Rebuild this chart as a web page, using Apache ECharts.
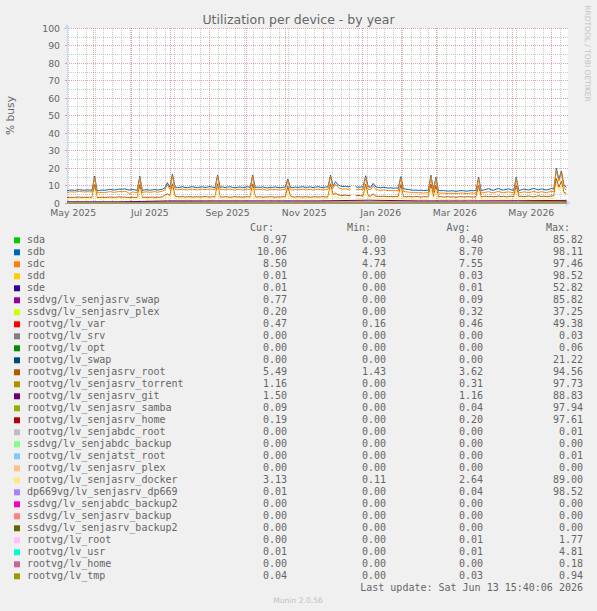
<!DOCTYPE html>
<html><head><meta charset="utf-8">
<script src="https://cdn.jsdelivr.net/npm/echarts@6/dist/echarts.min.js"></script>
<style>html,body{margin:0;padding:0;background:#F0F0F0}#c{width:597px;height:611px}</style>
</head><body><div id="c"></div>
<script>
// ---------------- DATA ----------------
const chartTitle = 'Utilization per device - by year';
const yAxisName = '% busy';
const xLabels = ['May 2025','Jul 2025','Sep 2025','Nov 2025','Jan 2026','Mar 2026','May 2026'];
const lastUpdate = 'Last update: Sat Jun 13 15:40:06 2026';

const names = ['sda','sdb','sdc','sdd','sde','ssdvg/lv_senjasrv_swap','ssdvg/lv_senjasrv_plex','rootvg/lv_var','rootvg/lv_srv','rootvg/lv_opt','rootvg/lv_swap','rootvg/lv_senjasrv_root','rootvg/lv_senjasrv_torrent','rootvg/lv_senjasrv_git','rootvg/lv_senjasrv_samba','rootvg/lv_senjasrv_home','rootvg/lv_senjabdc_root','ssdvg/lv_senjabdc_backup','rootvg/lv_senjatst_root','rootvg/lv_senjasrv_plex','rootvg/lv_senjasrv_docker','dp669vg/lv_senjasrv_dp669','ssdvg/lv_senjabdc_backup2','ssdvg/lv_senjasrv_backup','ssdvg/lv_senjasrv_backup2','rootvg/lv_root','rootvg/lv_usr','rootvg/lv_home','rootvg/lv_tmp'];
const colors = ['#00CC00','#0066B3','#FF8000','#FFCC00','#330099','#990099','#CCFF00','#FF0000','#808080','#008F00','#00487D','#B35A00','#B38F00','#6B006B','#8FB300','#B30000','#BEBEBE','#80FF80','#80C9FF','#FFC080','#FFE680','#AA80FF','#EE00CC','#FF8080','#666600','#FFBFFF','#00FFCC','#CC6699','#999900'];
const curValues = [0.97,10.06,8.50,0.01,0.01,0.77,0.20,0.47,0.00,0.00,0.00,5.49,1.16,1.50,0.09,0.19,0.00,0.00,0.00,0.00,3.13,0.01,0.00,0.00,0.00,0.00,0.01,0.00,0.04];
const minValues = [0.00,4.93,4.74,0.00,0.00,0.00,0.00,0.16,0.00,0.00,0.00,1.43,0.00,0.00,0.00,0.00,0.00,0.00,0.00,0.00,0.11,0.00,0.00,0.00,0.00,0.00,0.00,0.00,0.00];
const avgValues = [0.40,8.70,7.55,0.03,0.01,0.09,0.32,0.46,0.00,0.00,0.00,3.62,0.31,1.16,0.04,0.20,0.00,0.00,0.00,0.00,2.64,0.04,0.00,0.00,0.00,0.01,0.01,0.00,0.03];
const maxValues = [85.82,98.11,97.46,98.52,52.82,85.82,37.25,49.38,0.03,0.06,21.22,94.56,97.73,88.83,97.94,97.61,0.01,0.00,0.01,0.00,89.00,98.52,0.00,0.00,0.00,1.77,4.81,0.18,0.94];

// fine series: one value every 2 days starting 2025-05-11 (200 samples); null = missing data
const sdb = [
7.0,7.3,7.4,7.2,7.5,7.6,7.4,7.3,7.5,7.4,7.3,
15.4,
7.0,7.2,7.4,7.3,7.5,7.8,7.6,7.4,7.7,8.0,7.8,8.1,7.6,7.4,7.7,7.5,7.3,
15.4,
7.2,7.5,7.6,7.3,7.5,7.7,7.4,7.6,7.9,
8.6,11.6,9.0,16.6,9.2,
8.8,9.0,9.3,8.9,8.7,9.1,9.3,9.0,8.8,9.1,9.2,8.9,9.1,9.4,9.0,8.8,
16.0,
9.0,9.2,8.8,9.1,9.3,8.9,8.7,9.0,9.2,8.8,9.0,9.3,8.9,
16.0,
8.8,9.1,8.9,9.2,8.8,8.6,9.0,8.9,9.2,8.8,8.7,9.0,9.1,
13.7,
9.0,8.8,9.1,8.9,9.1,9.3,8.9,9.0,9.2,8.8,9.1,9.3,9.0,8.9,9.1,9.2,
16.0,9.8,12.2,10.4,
9.7,9.4,9.6,9.2,9.5,null,9.3,9.0,9.2,9.1,
15.6,9.3,9.0,11.2,
9.2,8.9,8.7,9.0,8.8,8.5,8.7,8.4,8.6,8.5,
15.0,
8.2,7.9,7.7,7.5,7.3,7.4,7.2,7.3,7.1,7.2,7.4,
15.9,7.5,14.7,
7.2,7.0,7.1,6.9,6.8,7.0,6.9,6.7,6.9,7.1,7.0,6.8,6.9,7.1,7.0,7.2,
14.7,
7.1,7.4,7.8,8.2,7.5,7.3,7.9,8.3,7.6,7.4,7.8,8.1,7.5,7.3,
14.7,
7.2,7.5,8.0,7.7,7.4,7.9,8.3,7.8,7.5,8.1,7.7,7.4,7.8,8.3,8.0,
19.8,13.5,18.3,10.3,8.8];
const sdc = [
6.0,6.3,6.4,6.2,6.5,6.6,6.4,6.3,6.5,6.4,6.3,
14.6,
5.8,5.9,6.1,6.0,6.2,6.5,6.3,6.1,6.4,6.6,6.4,6.7,6.2,5.2,6.3,6.1,6.0,
14.6,
6.0,6.3,6.4,6.1,6.3,6.5,6.2,6.4,6.8,
7.4,10.6,7.8,15.8,7.9,
7.5,7.7,7.9,7.6,7.4,7.8,7.9,7.7,7.5,7.8,7.9,7.6,7.8,8.0,7.7,7.5,
15.2,
7.6,7.8,7.5,7.8,7.9,7.6,7.4,7.7,7.9,7.5,7.7,7.9,7.6,
15.2,
7.5,7.8,7.6,7.9,7.5,7.3,7.7,7.6,7.8,7.5,7.4,7.7,7.8,
12.9,
7.6,7.4,7.7,7.5,7.7,7.9,7.5,7.6,7.8,7.4,7.7,7.9,7.6,7.5,7.7,7.8,
15.2,8.4,10.8,8.9,
8.2,7.9,8.1,7.8,8.0,null,7.9,7.6,7.8,7.7,
14.8,7.8,7.6,9.8,
7.7,7.4,7.2,7.5,7.3,7.1,7.2,7.0,7.1,7.0,
14.2,
6.7,6.4,6.2,6.1,5.9,6.0,5.8,5.9,5.7,5.8,6.0,
15.1,6.1,13.9,
5.8,5.6,5.7,5.5,5.4,5.6,5.5,5.3,5.5,5.7,5.6,5.4,5.5,5.7,5.6,5.8,
13.9,
5.7,5.9,6.2,6.5,6.0,5.8,6.3,6.6,6.1,5.9,6.2,6.4,6.0,5.8,
13.9,
5.8,6.0,6.4,6.2,5.9,6.3,6.6,6.2,6.0,6.5,6.2,5.9,6.3,6.7,6.5,
18.8,12.5,17.3,9.0,7.2];
const senjasrvRoot = [
3.1,3.2,3.3,3.2,3.3,3.4,3.2,3.3,3.2,3.3,3.2,
10.5,
3.1,3.2,3.3,3.2,3.3,3.4,3.3,3.2,3.4,3.5,3.3,3.4,3.2,3.1,3.3,3.2,3.2,
10.5,
3.2,3.3,3.2,3.3,3.4,3.2,3.3,3.3,3.5,
4.5,5.2,4.2,11.0,4.0,
3.6,3.5,3.7,3.4,3.5,3.6,3.4,3.5,3.6,3.4,3.5,3.7,3.5,3.4,3.6,3.5,
11.0,
3.5,3.4,3.6,3.5,3.3,3.5,3.6,3.4,3.5,3.3,3.5,3.6,3.4,
11.0,
3.5,3.4,3.6,3.3,3.5,3.4,3.6,3.5,3.3,3.5,3.4,3.6,3.5,
9.5,
4.0,3.5,3.4,3.6,3.5,3.4,3.6,3.5,3.3,3.5,3.6,3.4,3.5,3.6,3.4,3.5,
11.0,4.8,5.6,4.7,
4.4,4.3,4.5,4.2,4.4,null,4.1,4.3,4.2,4.0,
10.8,4.1,3.9,5.2,
3.9,3.8,3.7,3.9,3.8,3.6,3.7,3.6,3.8,3.7,
10.5,
3.6,3.5,3.7,3.6,3.5,3.7,3.6,3.4,3.6,3.5,3.6,
10.8,3.7,10.0,
3.5,3.6,3.4,3.5,3.6,3.4,3.5,3.3,3.5,3.6,3.4,3.5,3.6,3.5,3.4,3.6,
10.0,
3.5,3.7,3.9,3.6,3.8,3.5,3.7,4.0,3.6,3.8,3.5,3.7,3.9,3.6,
10.0,
3.7,3.9,3.6,3.8,4.0,3.7,3.5,3.8,4.1,3.7,3.9,3.6,3.8,4.0,4.2,
14.0,9.0,12.5,6.0,5.5];
const senjasrvDocker = [
2.3,2.4,2.3,2.2,2.4,2.3,2.5,2.4,2.3,2.2,2.4,
8.0,
2.3,2.2,2.4,2.3,2.5,2.4,2.3,2.2,2.4,2.5,2.3,2.4,2.2,2.3,2.4,2.3,2.2,
8.0,
2.3,2.4,2.2,2.3,2.5,2.4,2.3,2.2,2.4,
2.8,3.5,2.6,8.5,2.5,
2.4,2.3,2.5,2.4,2.2,2.3,2.5,2.4,2.3,2.2,2.4,2.5,2.3,2.4,2.2,2.3,
8.5,
2.4,2.3,2.2,2.4,2.5,2.3,2.2,2.4,2.3,2.5,2.4,2.2,2.3,
8.5,
2.4,2.3,2.5,2.2,2.4,2.3,2.2,2.4,2.5,2.3,2.4,2.2,2.3,
7.0,
2.5,2.4,2.3,2.2,2.4,2.5,2.3,2.4,2.2,2.3,2.5,2.4,2.3,2.2,2.4,2.3,
8.5,3.0,3.6,3.0,
2.7,2.8,2.6,2.7,2.8,null,2.7,2.5,2.6,2.7,
8.3,2.6,2.5,3.5,
2.6,2.5,2.4,2.6,2.5,2.4,2.3,2.5,2.4,2.3,
8.0,
2.3,2.2,2.4,2.3,2.1,2.2,2.3,2.1,2.2,2.0,2.2,
8.3,2.2,7.6,
2.1,2.0,2.2,2.1,1.9,2.0,2.2,2.1,2.0,1.9,2.1,2.2,2.0,2.1,1.9,2.0,
7.6,
2.1,2.2,2.4,2.3,2.1,2.2,2.4,2.5,2.2,2.1,2.3,2.4,2.2,2.1,
7.6,
2.2,2.3,2.5,2.4,2.2,2.3,2.6,2.4,2.2,2.5,2.3,2.2,2.4,2.6,2.5,
11.0,7.0,10.0,4.5,3.2];

// coarse series: samples at fine-sample indices 0,20,...,180,199
const coarseIdx = [0,20,40,60,80,100,120,140,160,180,199];
const sda      = [0.4,0.4,0.5,0.4,0.3,0.4,0.5,0.4,0.3,0.4,0.9];
const sdd      = [0.02,0.03,0.02,0.03,0.02,0.03,0.02,0.03,0.02,0.03,0.01];
const sde      = [0.01,0.01,0.01,0.01,0.01,0.01,0.01,0.01,0.01,0.01,0.01];
const ssdSwap  = [0.08,0.10,0.09,0.10,0.08,0.10,0.09,0.08,0.10,0.09,0.70];
const ssdPlex  = [0.30,0.35,0.30,0.32,0.30,0.34,0.30,0.33,0.31,0.30,0.20];
const lvVar    = [0.45,0.46,0.47,0.45,0.46,0.47,0.45,0.46,0.45,0.46,0.47];
const lvSrv    = [0,0,0,0,0,0,0,0,0,0,0];
const lvOpt    = [0,0,0,0,0,0,0,0,0,0,0];
const lvSwap   = [0,0,0,0,0,0,0,0,0,0,0];
const torrent  = [0.30,0.28,0.32,0.30,0.29,0.31,0.30,0.32,0.30,0.30,1.10];
const git      = [0.6,0.6,1.2,1.2,1.2,1.2,1.6,1.2,1.2,1.3,1.5];
const samba    = [0.04,0.04,0.04,0.04,0.04,0.04,0.04,0.04,0.04,0.04,0.09];
const senjasrvHome = [0.20,0.19,0.21,0.20,0.20,0.21,0.19,0.20,0.20,0.21,0.19];
const senjabdcRoot = [0,0,0,0,0,0,0,0,0,0,0];
const senjabdcBackup = [0,0,0,0,0,0,0,0,0,0,0];
const senjatstRoot = [0,0,0,0,0,0,0,0,0,0,0];
const senjasrvPlex = [0,0,0,0,0,0,0,0,0,0,0];
const dp669    = [0.02,0.02,0.02,0.02,0.02,0.02,0.02,0.02,0.02,0.02,0.01];
const senjabdcBackup2 = [0,0,0,0,0,0,0,0,0,0,0];
const senjasrvBackup  = [0,0,0,0,0,0,0,0,0,0,0];
const senjasrvBackup2 = [0,0,0,0,0,0,0,0,0,0,0];
const lvRoot   = [0.01,0.01,0.01,0.01,0.01,0.01,0.01,0.01,0.01,0.01,0.00];
const lvUsr    = [0.01,0.01,0.01,0.01,0.01,0.01,0.01,0.01,0.01,0.01,0.01];
const lvHome   = [0,0,0,0,0,0,0,0,0,0,0];
const lvTmp    = [0.03,0.03,0.03,0.03,0.03,0.03,0.03,0.03,0.03,0.03,0.04];

const seriesValues = [sda,sdb,sdc,sdd,sde,ssdSwap,ssdPlex,lvVar,lvSrv,lvOpt,lvSwap,senjasrvRoot,torrent,git,samba,senjasrvHome,senjabdcRoot,senjabdcBackup,senjatstRoot,senjasrvPlex,senjasrvDocker,dp669,senjabdcBackup2,senjasrvBackup,senjasrvBackup2,lvRoot,lvUsr,lvHome,lvTmp];

// ---------------- BUILD ----------------
const MONTHS = ['Jan','Feb','Mar','Apr','May','Jun','Jul','Aug','Sep','Oct','Nov','Dec'];
const fineTimes = [];
for (let i = 0; i < sdb.length; i++) fineTimes.push(new Date(2025, 4, 11 + 2 * i).getTime());
const xMin = new Date(2025, 4, 11).getTime();
const xMax = new Date(2026, 5, 14, 6).getTime();

const labelDates = xLabels.map(s => { const p = s.split(' '); return new Date(+p[1], MONTHS.indexOf(p[0]), 16).getTime(); });
const monthStarts = [];
for (let k = 0; k < 15; k++) { const t = new Date(2025, 4 + k, 1).getTime(); if (t > xMin && t < xMax) monthStarts.push(t); }
const weekStarts = [];
for (let k = 0; k < 60; k++) { const t = new Date(2025, 4, 12 + 7 * k).getTime(); if (t < xMax && monthStarts.indexOf(t) < 0) weekStarts.push(t); }

const FONT = "'DejaVu Sans', sans-serif";
const MONO = '"DejaVu Sans Mono", monospace';
const TXT = '#666666';
const AXIS = '#CFD6F8';
const MAJ = 'rgba(200,90,90,0.55)';
const MINC = 'rgba(150,150,150,0.5)';

function gridSeries(times, color) {
  return {
    type: 'custom', xAxisIndex: 0, yAxisIndex: 0, silent: true, animation: false, z: 1, clip: true,
    data: times.map(t => [t, 0]), encode: { x: 0, y: 1 },
    renderItem: function (params, api) {
      const p0 = api.coord([api.value(0), 0]);
      const p1 = api.coord([api.value(0), 100]);
      const x = Math.round(p0[0]) + 0.5;
      return { type: 'line', silent: true,
        shape: { x1: x, y1: p0[1], x2: x, y2: p1[1] },
        style: { stroke: color, lineWidth: 1, lineDash: [1, 1], fill: null } };
    }
  };
}

const series = [gridSeries(weekStarts, MINC), gridSeries(monthStarts, MAJ)].concat(names.map((n, k) => {
  const vals = seriesValues[k];
  const data = vals.length === fineTimes.length
    ? vals.map((v, i) => [fineTimes[i], v])
    : vals.map((v, i) => [fineTimes[coarseIdx[i]], v]);
  return {
    name: n, type: 'line', xAxisIndex: 0, yAxisIndex: 0, data: data,
    showSymbol: false, symbol: 'none', silent: true, animation: false, connectNulls: false,
    lineStyle: { color: colors[k], width: 1 }, itemStyle: { color: colors[k] },
    emphasis: { disabled: true }, z: 2
  };
}));

const g = [];
function txt(x, y, text, font, align, vAlign, fill, extra) {
  const e = { type: 'text', x: x, y: y, silent: true,
    style: { text: text, x: 0, y: 0, font: font, fill: fill,
      align: align, verticalAlign: vAlign, textAlign: align, textVerticalAlign: vAlign } };
  if (extra) Object.assign(e, extra);
  g.push(e);
}
txt(298.5, 19.5, chartTitle, '12.5px ' + FONT, 'center', 'middle', TXT);
txt(587, 53.5, 'RRDTOOL / TOBI OETIKER', '7.5px ' + FONT, 'center', 'middle', '#c4c4c4', { rotation: -Math.PI / 2 });
const colRight = [287, 386, 483, 583];
const hdrRight = [274, 371, 470.5, 570];
['Cur:', 'Min:', 'Avg:', 'Max:'].forEach((h, j) => txt(hdrRight[j], 227.5, h, '10px ' + MONO, 'right', 'middle', TXT));
names.forEach((n, k) => {
  const y = 239.5 + 12 * k;
  g.push({ type: 'rect', silent: true, shape: { x: 14, y: y - 2.2, width: 6, height: 6 }, style: { fill: colors[k] } });
  txt(27, y, n, '10px ' + MONO, 'left', 'middle', TXT);
  [curValues, minValues, avgValues, maxValues].forEach((arr, j) =>
    txt(colRight[j], y, arr[k].toFixed(2), '10px ' + MONO, 'right', 'middle', TXT));
});
txt(583, 587, lastUpdate, '10px ' + MONO, 'right', 'middle', TXT);
txt(298, 600, 'Munin 2.0.56', '7.6px ' + FONT, 'center', 'middle', '#c2c2c2');

function labelFor(v) {
  let best = 0;
  labelDates.forEach((d, i) => { if (Math.abs(d - v) < Math.abs(labelDates[best] - v)) best = i; });
  return xLabels[best];
}

const option = {
  backgroundColor: '#F0F0F0',
  animation: false,
  grid: { left: 67, top: 28, width: 501, height: 175, show: true, backgroundColor: '#FFFFFF', borderWidth: 0, containLabel: false, outerBoundsMode: 'none' },
  xAxis: { type: 'value', min: xMin, max: xMax, position: 'bottom', scale: true,
    axisLine: { show: true, onZero: false, lineStyle: { color: AXIS, width: 1 }, symbol: ['none', 'arrow'], symbolSize: [6, 6], symbolOffset: [0, 3] },
    axisTick: { show: false },
    axisLabel: { show: true, customValues: labelDates, color: TXT, fontFamily: FONT, fontSize: 9.3, margin: 5, hideOverlap: false,
      showMinLabel: true, showMaxLabel: true, formatter: labelFor },
    splitLine: { show: false } },
  yAxis: { type: 'value', min: 0, max: 100, interval: 10,
    name: yAxisName, nameLocation: 'middle', nameGap: 51, nameRotate: 90,
    nameTextStyle: { color: TXT, fontFamily: FONT, fontSize: 10.7 },
    axisLine: { show: true, lineStyle: { color: AXIS, width: 1 }, symbol: ['none', 'arrow'], symbolSize: [6, 6], symbolOffset: [0, 4] },
    axisTick: { show: true, length: 2, lineStyle: { color: MAJ } },
    axisLabel: { color: TXT, fontFamily: FONT, fontSize: 9.3, margin: 7 },
    splitLine: { show: true, lineStyle: { color: MAJ, width: 1, type: [1, 1] } },
    minorTick: { show: false, splitNumber: 2 },
    minorSplitLine: { show: true, lineStyle: { color: MINC, width: 1, type: [1, 1] } } },
  series: series,
  graphic: { elements: g }
};
const chart = echarts.init(document.getElementById('c'), null, { renderer: 'svg', width: 597, height: 611 });
chart.setOption(option);
</script>
</body></html>
